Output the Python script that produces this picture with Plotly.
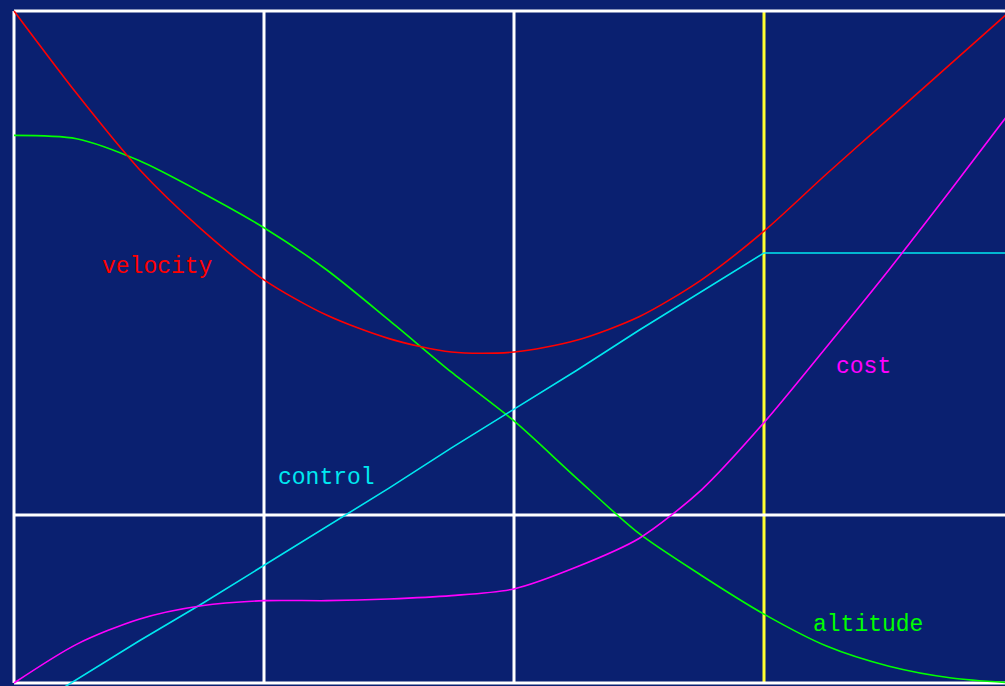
import plotly.graph_objects as go

# time samples
t_grid = [0, 0.25, 0.5, 0.75, 1.0, 1.25, 1.5, 1.75, 2.0, 2.25, 2.5, 2.75, 3.0, 3.25, 3.5, 3.75, 4.0]

velocity = [4.00, 3.51, 3.06, 2.70, 2.40, 2.19, 2.05, 1.97, 1.97, 2.04, 2.18, 2.40, 2.69, 3.03, 3.36, 3.69, 4.02]
altitude = [3.26, 3.24, 3.11, 2.92, 2.71, 2.46, 2.16, 1.85, 1.56, 1.22, 0.89, 0.64, 0.41, 0.22, 0.10, 0.03, 0.0]
control = [-0.21, 0.02, 0.25, 0.47, 0.70, 0.93, 1.16, 1.40, 1.63, 1.86, 2.10, 2.33, 2.56, 2.56, 2.56, 2.56, 2.56]
cost = [0.0, 0.23, 0.38, 0.46, 0.49, 0.49, 0.50, 0.52, 0.56, 0.69, 0.86, 1.15, 1.55, 2.00, 2.46, 2.94, 3.43]

labels = ["velocity", "control", "cost", "altitude"]
label_t = [0.574, 1.25, 3.398, 3.414]
label_v = [2.476, 1.22, 1.881, 0.345]
label_colors = ["#ff0000", "#00e8f0", "#ff00ff", "#00ff00"]

x_lines = [0, 1, 2]
x_special = 3
y_lines = [0, 1, 4]

BG = "#0a2070"

fig = go.Figure()
fig.add_trace(go.Scatter(x=t_grid, y=altitude, mode="lines", line=dict(color="#00ff00", width=1.6, shape="spline", smoothing=0.8), name="altitude"))
fig.add_trace(go.Scatter(x=t_grid, y=velocity, mode="lines", line=dict(color="#ff0000", width=1.6, shape="spline", smoothing=0.8), name="velocity"))
fig.add_trace(go.Scatter(x=t_grid, y=control, mode="lines", line=dict(color="#00e8f0", width=1.6), name="control"))
fig.add_trace(go.Scatter(x=t_grid, y=cost, mode="lines", line=dict(color="#ff00ff", width=1.6, shape="spline", smoothing=0.8), name="cost"))

shapes = []
for xv in x_lines:
    shapes.append(dict(type="line", xref="x", yref="y", x0=xv, x1=xv, y0=0, y1=4,
                       line=dict(color="white", width=3), layer="below"))
shapes.append(dict(type="line", xref="x", yref="y", x0=x_special, x1=x_special, y0=0, y1=4,
                   line=dict(color="#ffff30", width=3), layer="below"))
for yv in y_lines:
    shapes.append(dict(type="line", xref="x", yref="y", x0=0, x1=4.2, y0=yv, y1=yv,
                       line=dict(color="white", width=3), layer="below"))

annotations = []
for txt, tx, ty, c in zip(labels, label_t, label_v, label_colors):
    annotations.append(dict(x=tx, y=ty, xref="x", yref="y", text=txt, showarrow=False,
                            font=dict(family="Liberation Mono", size=23, color=c)))

fig.update_layout(
    width=1005, height=686,
    margin=dict(l=9, r=0, t=6, b=0),
    paper_bgcolor=BG, plot_bgcolor=BG,
    showlegend=False,
    shapes=shapes, annotations=annotations,
    xaxis=dict(range=[-0.02, 3.964], showgrid=False, zeroline=False, showticklabels=False, ticks="", fixedrange=True),
    yaxis=dict(range=[-0.018, 4.03], showgrid=False, zeroline=False, showticklabels=False, ticks="", fixedrange=True),
)

post = ("document.body.style.margin='0';document.body.style.padding='0';"
        "document.body.style.background='%s';document.body.style.overflow='hidden';"
        "document.documentElement.style.overflow='hidden';" % BG)

fig.write_html("out.html", post_script=post, config={"displayModeBar": False})
